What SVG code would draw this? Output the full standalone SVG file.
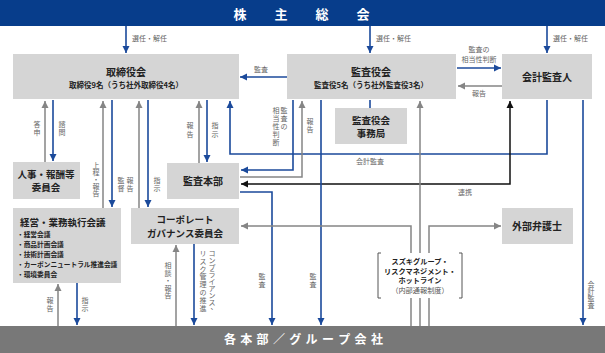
<svg xmlns="http://www.w3.org/2000/svg" width="605" height="353" viewBox="0 0 605 353">
<style>
text{font-family:"Noto Sans CJK JP","Noto Sans",sans-serif}
.box{fill:#d5d5d5}
.t{font-weight:bold;fill:#222;text-anchor:middle}
.t10{font-size:10px}
.t9{font-size:9.5px}
.s{font-size:7.5px;font-weight:bold;fill:#222;text-anchor:middle}
.lb{font-size:7px;fill:#666}
.v{font-size:7px;fill:#666;text-anchor:middle}
.bl{stroke:#1b4a9b;stroke-width:1.6;fill:none}
.gr{stroke:#858585;stroke-width:1.5;fill:none}
.bk{stroke:#111;stroke-width:1.5;fill:none}
</style>
<defs>
<marker id="ab" markerUnits="userSpaceOnUse" markerWidth="8" markerHeight="8" refX="7" refY="4" orient="auto"><path d="M0,0.5 L7,4 L0,7.5 z" fill="#1b4a9b"/></marker>
<marker id="ag" markerUnits="userSpaceOnUse" markerWidth="8" markerHeight="8" refX="7" refY="4" orient="auto"><path d="M0,0.5 L7,4 L0,7.5 z" fill="#858585"/></marker>
<marker id="ak" markerUnits="userSpaceOnUse" markerWidth="8" markerHeight="8" refX="7" refY="4" orient="auto"><path d="M0,0.5 L7,4 L0,7.5 z" fill="#111"/></marker>
<marker id="akS" markerUnits="userSpaceOnUse" markerWidth="8" markerHeight="8" refX="0" refY="4" orient="auto"><path d="M7,0.5 L0,4 L7,7.5 z" fill="#111"/></marker>
</defs>

<g id="connectors">
<path class="bl" d="M126,26 V53" marker-end="url(#ab)"/>
<path class="bl" d="M370,26 V53" marker-end="url(#ab)"/>
<path class="bl" d="M547,26 V53" marker-end="url(#ab)"/>
<path class="bl" d="M287,77 H240" marker-end="url(#ab)"/>
<path class="bl" d="M457,68 H501" marker-end="url(#ab)"/>
<path class="gr" d="M502,86 H458" marker-end="url(#ag)"/>
<path class="gr" d="M45,162 V101" marker-end="url(#ag)"/>
<path class="bl" d="M53,100 V161" marker-end="url(#ab)"/>
<path class="gr" d="M103,208 V101" marker-end="url(#ag)"/>
<path class="bl" d="M112,100 V207" marker-end="url(#ab)"/>
<path class="gr" d="M139,208 V101" marker-end="url(#ag)"/>
<path class="bl" d="M148,100 V207" marker-end="url(#ab)"/>
<path class="gr" d="M199,163 V101" marker-end="url(#ag)"/>
<path class="bl" d="M207,100 V162" marker-end="url(#ab)"/>
<path class="bl" d="M547,100 V154 H230 V101" marker-end="url(#ab)"/>
<path class="bl" d="M583,100 V325" marker-end="url(#ab)"/>
<path class="bk" d="M241,184 H510 V101" marker-start="url(#akS)" marker-end="url(#ak)"/>
<path class="bl" d="M293,100 V170 H241" marker-end="url(#ab)"/>
<path class="gr" d="M240,177 H302 V101" marker-end="url(#ag)"/>
<path class="bl" d="M240,192 H272 V325" marker-end="url(#ab)"/>
<path class="bl" d="M321,100 V325" marker-end="url(#ab)"/>
<path class="bl" d="M370,100 V108"/>
<path class="gr" d="M420,326 V101" marker-end="url(#ag)"/>
<path class="gr" d="M411,326 V226 H241" marker-end="url(#ag)"/>
<path class="gr" d="M429,326 V226 H501" marker-end="url(#ag)"/>
<path class="gr" d="M58,326 V284" marker-end="url(#ag)"/>
<path class="bl" d="M77,283 V325" marker-end="url(#ab)"/>
<path class="gr" d="M176,326 V245" marker-end="url(#ag)"/>
<path class="bl" d="M194,244 V325" marker-end="url(#ab)"/>
</g>

<g id="labels">
<text class="lb" x="132" y="41">選任・解任</text>
<text class="lb" x="376" y="41">選任・解任</text>
<text class="lb" x="553" y="41">選任・解任</text>
<text class="lb" x="261" y="72" text-anchor="middle">監査</text>
<text class="lb" x="479" y="52" text-anchor="middle">監査の</text>
<text class="lb" x="479" y="62" text-anchor="middle">相当性判断</text>
<text class="lb" x="479" y="96" text-anchor="middle">報告</text>
<text class="lb" x="370" y="164" text-anchor="middle">会計監査</text>
<text class="lb" x="465" y="195" text-anchor="middle">連携</text>
<text class="v" x="37 37" y="127 135">答申</text>
<text class="v" x="62 62" y="127 135">諮問</text>
<text class="v" x="96 96 96 96 96" y="168 175 182 189 196">上程・報告</text>
<text class="v" x="121 121" y="183 191">監督</text>
<text class="v" x="130 130" y="183 191">報告</text>
<text class="v" x="157 157" y="183 191">指示</text>
<text class="v" x="190 190" y="128 137">報告</text>
<text class="v" x="215 215" y="128 137">指示</text>
<text class="v" x="284 284 284" y="113 121 129">監査の</text>
<text class="v" x="276 276 276 276 276" y="113 121 129 137 145">相当性判断</text>
<text class="v" x="310 310" y="124 132">報告</text>
<text class="v" x="262 262" y="279 287">監査</text>
<text class="v" x="313 313" y="279 287">監査</text>
<text class="v" x="591 591 591 591" y="287 294 301 308">会計監査</text>
<text class="v" x="50 50" y="303 311">報告</text>
<text class="v" x="85 85" y="303 311">指示</text>
<text class="v" x="168 168 168 168 168" y="268 275.5 283 290.5 298">相談・報告</text>
<text class="v" x="212 212 212 212 212 212 212 212 214" y="256 263 270 277 284 291 298 305 309">コンプライアンス、</text>
<text class="v" x="203 203 203 203 203 203 203 203" y="256 263.8 271.6 279.4 287.2 295 302.8 310.6">リスク管理の推進</text>
</g>

<g id="top-bar">
<rect x="0" y="0" width="605" height="26" fill="#073d8b"/>
<text x="240 281 322 363" y="19" fill="#fff" font-size="13" font-weight="bold" text-anchor="middle">株主総会</text>
</g>

<g id="bottom-bar">
<rect x="0" y="326" width="605" height="27" fill="#787878"/>
<text x="230 246.3 262.6 279 295.3 311.6 328 344.3 360.6 377" y="344" fill="#fff" font-size="12" font-weight="bold" text-anchor="middle">各本部／グループ会社</text>
</g>

<g id="board">
<rect class="box" x="13" y="54" width="226" height="45"/>
<text class="t t10" x="126" y="76">取締役会</text>
<text class="s" x="126" y="88">取締役9名（うち社外取締役4名）</text>
</g>

<g id="kansayakukai">
<rect class="box" x="287" y="54" width="169" height="45"/>
<text class="t t10" x="371" y="76">監査役会</text>
<text class="s" x="371" y="88">監査役5名（うち社外監査役3名）</text>
</g>

<g id="auditor">
<rect class="box" x="502" y="54" width="90" height="45"/>
<text class="t t10" x="547" y="81">会計監査人</text>
</g>

<g id="secretariat">
<rect class="box" x="335" y="108" width="72" height="36"/>
<text class="t" font-size="9.5" x="371" y="123.5">監査役会</text>
<text class="t" font-size="9.5" x="371" y="137">事務局</text>
</g>

<g id="nomination">
<rect class="box" x="13" y="162" width="67" height="37"/>
<text class="t t9" x="46" y="178">人事・報酬等</text>
<text class="t t9" x="46" y="191">委員会</text>
</g>

<g id="internal-audit">
<rect class="box" x="167" y="163" width="72" height="36"/>
<text class="t t10" x="203" y="185">監査本部</text>
</g>

<g id="exec-meeting">
<rect class="box" x="13" y="208" width="108" height="75"/>
<text x="20" y="226" font-size="9.5" font-weight="bold" fill="#222">経営・業務執行会議</text>
<g font-size="6.7" font-weight="bold" fill="#222">
<text x="17" y="237">・経営会議</text>
<text x="17" y="247">・商品計画会議</text>
<text x="17" y="257">・技術計画会議</text>
<text x="17" y="267">・カーボンニュートラル推進会議</text>
<text x="17" y="277">・環境委員会</text>
</g>
</g>

<g id="cg-committee">
<rect class="box" x="131" y="208" width="108" height="36"/>
<text class="t t9" x="185" y="223">コーポレート</text>
<text class="t t9" x="185" y="237">ガバナンス委員会</text>
</g>

<g id="lawyer">
<rect class="box" x="502" y="208" width="71" height="36"/>
<text class="t t10" x="537" y="230">外部弁護士</text>
</g>

<g id="hotline">
<rect x="379" y="253" width="83" height="45" fill="#fff"/>
<path d="M381,253 H378 V298 H381 M459,253 H462 V298 H459" stroke="#555" stroke-width="1" fill="none"/>
<text class="t" x="420" y="264" font-size="7.2">スズキグループ・</text>
<text class="t" x="420" y="274" font-size="7.2">リスクマネジメント・</text>
<text class="t" x="420" y="283" font-size="7.2">ホットライン</text>
<text x="420" y="293" font-size="7.2" fill="#555" text-anchor="middle">（内部通報制度）</text>
</g>
</svg>
